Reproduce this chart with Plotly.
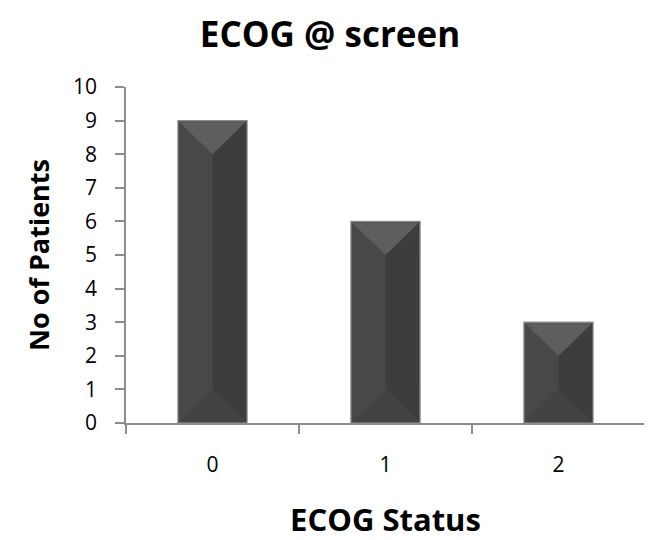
import plotly.graph_objects as go

categories = ["0", "1", "2"]
patients = [9, 6, 3]
y_ticks = list(range(0, 11))

BAR_W = 0.4
BEVEL = 1.0  # bevel depth in y units (style)

x_pos = list(range(len(categories)))

fig = go.Figure()
fig.add_trace(go.Bar(
    x=x_pos, y=patients, width=BAR_W,
    marker=dict(color="#484848", line=dict(color="#8e8e8e", width=1.2)),
    hoverinfo="skip",
))

hw = BAR_W / 2 * 0.97
for i, v in zip(x_pos, patients):
    # right face (darker)
    fig.add_trace(go.Scatter(
        x=[i, i + hw, i + hw, i, i], y=[v - BEVEL, v - 0.03, 0.03, BEVEL, v - BEVEL],
        fill="toself", fillcolor="#3d3d3d", line=dict(width=0), mode="lines", hoverinfo="skip"))
    # top face (lighter)
    fig.add_trace(go.Scatter(
        x=[i - hw, i + hw, i, i - hw], y=[v - 0.03, v - 0.03, v - BEVEL, v - 0.03],
        fill="toself", fillcolor="#5e5e5e", line=dict(width=0), mode="lines", hoverinfo="skip"))
    # bottom face
    fig.add_trace(go.Scatter(
        x=[i - hw, i + hw, i, i - hw], y=[0.03, 0.03, BEVEL, 0.03],
        fill="toself", fillcolor="#434343", line=dict(width=0), mode="lines", hoverinfo="skip"))

fig.update_layout(
    width=644, height=532,
    margin=dict(l=118, r=7, t=79, b=117),
    paper_bgcolor="white", plot_bgcolor="white",
    showlegend=False,
    title=dict(text="<b>ECOG @ screen</b>", x=0.5, xanchor="center",
               y=1 - 27 / 532, yanchor="middle",
               font=dict(family="Open Sans", size=35, color="black")),
    font=dict(family="Open Sans", color="black"),
)
fig.update_xaxes(
    range=[-0.5, 2.5], tickvals=x_pos, ticktext=categories,
    showline=True, linecolor="#8c8c8c", linewidth=1.5,
    ticks="", tickfont=dict(size=21), ticklabelstandoff=22,
    minor=dict(tickvals=[-0.5, 0.5, 1.5, 2.5], ticks="outside", ticklen=9,
               tickcolor="#8c8c8c", tickwidth=1.5, showgrid=False),
    showgrid=False, zeroline=False,
    title=dict(text="<b>ECOG Status</b>", font=dict(size=31), standoff=32),
)
fig.update_yaxes(
    range=[0, 10], tickvals=y_ticks, showline=True, linecolor="#8c8c8c", linewidth=1.5,
    ticks="outside", ticklen=9, tickwidth=1.5, tickcolor="#8c8c8c", tickfont=dict(size=21),
    ticklabelstandoff=14,
    showgrid=False, zeroline=False,
    title=dict(text="<b>No of Patients</b>", font=dict(size=27), standoff=16),
)
fig.write_html("out.html")
